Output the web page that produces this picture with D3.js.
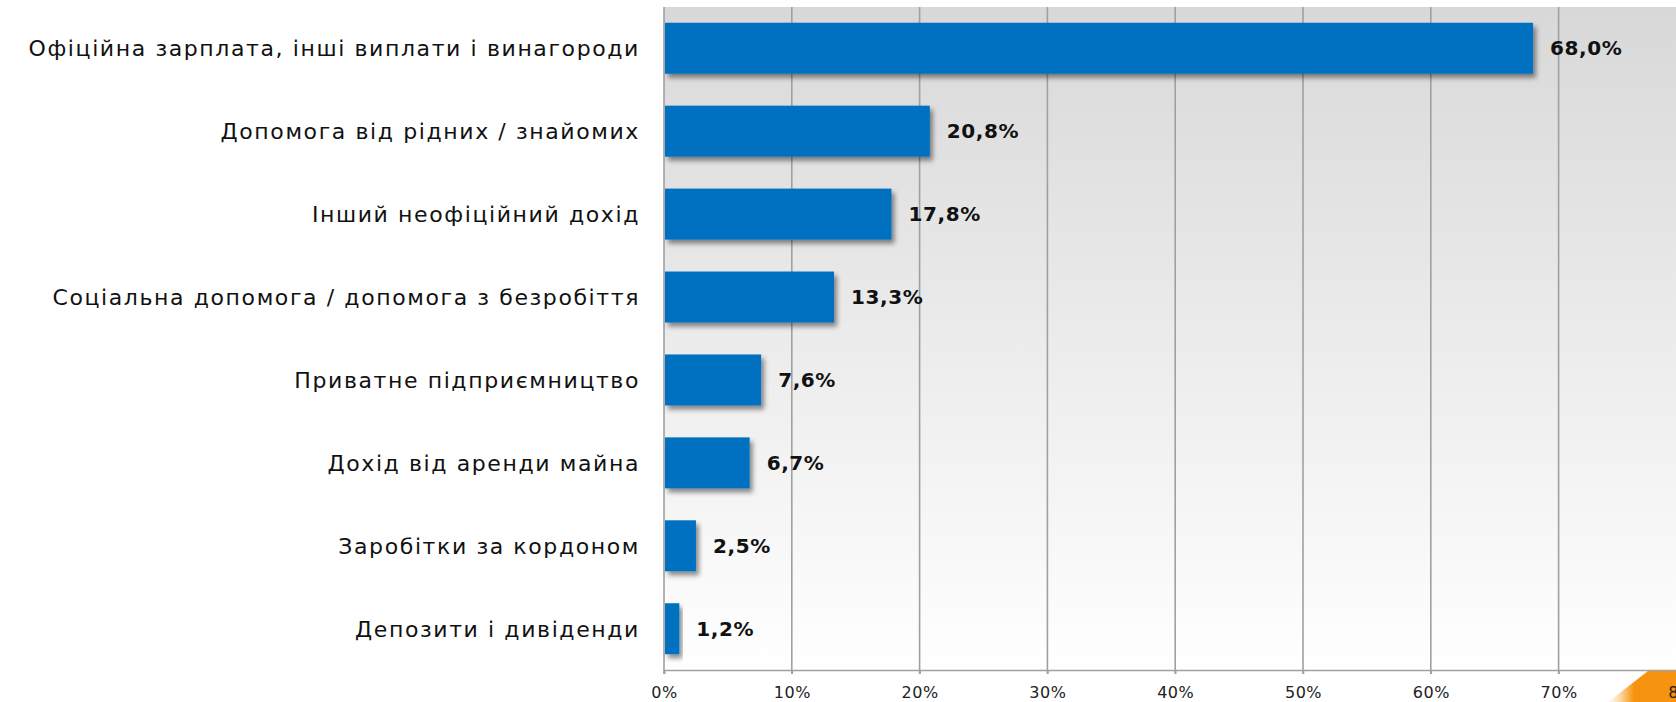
<!DOCTYPE html>
<html>
<head>
<meta charset="utf-8">
<script src="https://cdn.jsdelivr.net/npm/d3@7"></script>
<style>
  html, body { margin: 0; padding: 0; background: #ffffff; overflow: hidden; }
  svg { display: block; }
</style>
</head>
<body>
<svg id="chart" width="1676" height="702"></svg>
<script>
// Sources of income, share of respondents
const categories = [
  "Офіційна зарплата, інші виплати і винагороди",
  "Допомога від рідних / знайомих",
  "Інший неофіційний дохід",
  "Соціальна допомога / допомога з безробіття",
  "Приватне підприємництво",
  "Дохід від аренди майна",
  "Заробітки за кордоном",
  "Депозити і дивіденди"
];
const values = [68.0, 20.8, 17.8, 13.3, 7.6, 6.7, 2.5, 1.2];
const tickValues = [0, 10, 20, 30, 40, 50, 60, 70, 80];

const W = 1676, H = 702;
const margin = { left: 664, top: 7, bottom: 32 };
const plotBottom = H - margin.bottom;       // axis line
const plotRight = margin.left + 8 * 127.8;  // 80% falls past the right edge

const svg = d3.select("#chart");
const defs = svg.append("defs");

const bg = defs.append("linearGradient")
  .attr("id", "plotBg").attr("x1", 0).attr("y1", 0).attr("x2", 0).attr("y2", 1);
bg.append("stop").attr("offset", "0%").attr("stop-color", "#d8d8d8");
bg.append("stop").attr("offset", "100%").attr("stop-color", "#ffffff");

const shadow = defs.append("filter").attr("id", "barShadow")
  .attr("x", "-10%").attr("y", "-30%").attr("width", "130%").attr("height", "180%");
shadow.append("feDropShadow")
  .attr("dx", 3).attr("dy", 4).attr("stdDeviation", 2.5)
  .attr("flood-color", "#000").attr("flood-opacity", 0.45);

const corner = defs.append("linearGradient")
  .attr("id", "cornerFill").attr("x1", 0).attr("y1", 0).attr("x2", 1).attr("y2", 0);
corner.append("stop").attr("offset", "0%").attr("stop-color", "#ffffff");
corner.append("stop").attr("offset", "18%").attr("stop-color", "#fbd9a6");
corner.append("stop").attr("offset", "38%").attr("stop-color", "#f7940f");
corner.append("stop").attr("offset", "100%").attr("stop-color", "#f7940f");

const x = d3.scaleLinear().domain([0, 80]).range([margin.left, plotRight]);
const y = d3.scaleBand().domain(categories)
  .range([margin.top, plotBottom]).paddingInner(0.385).paddingOuter(0.19);

// plot background
svg.append("rect")
  .attr("x", margin.left).attr("y", margin.top)
  .attr("width", plotRight - margin.left).attr("height", plotBottom - margin.top)
  .attr("fill", "url(#plotBg)");

// decorative corner
svg.append("path")
  .attr("d", "M1608,702 L1648,671 L1676,671 L1676,702 Z")
  .attr("fill", "url(#cornerFill)");

// vertical gridlines
svg.append("g").selectAll("line").data(tickValues).join("line")
  .attr("x1", d => x(d)).attr("x2", d => x(d))
  .attr("y1", margin.top).attr("y2", plotBottom + 4)
  .attr("stroke", "#a0a0a0").attr("stroke-width", 1.6);

// x axis
const xAxis = d3.axisBottom(x).tickValues(tickValues)
  .tickFormat(d => d + "%").tickSize(4).tickPadding(13);
const gx = svg.append("g").attr("transform", `translate(0,${plotBottom})`).call(xAxis);
gx.select(".domain").attr("stroke", "#a0a0a0").attr("stroke-width", 1.6);
gx.selectAll(".tick line").attr("stroke", "#a0a0a0").attr("stroke-width", 1.6);
gx.selectAll("text")
  .attr("font-family", "'DejaVu Sans', sans-serif").attr("font-size", 16)
  .attr("letter-spacing", 0.5)
  .attr("fill", "#222");

// bars
svg.append("g").selectAll("rect").data(values).join("rect")
  .attr("x", x(0) + 1)
  .attr("y", (d, i) => y(categories[i]))
  .attr("width", d => x(d) - x(0) - 1)
  .attr("height", y.bandwidth())
  .attr("fill", "#0070c0")
  .attr("filter", "url(#barShadow)");

// value labels
svg.append("g").selectAll("text").data(values).join("text")
  .attr("x", d => x(d) + 17)
  .attr("y", (d, i) => y(categories[i]) + y.bandwidth() / 2)
  .attr("dy", "0.36em")
  .attr("font-family", "'DejaVu Sans', sans-serif")
  .attr("font-weight", "bold").attr("font-size", 20)
  .attr("letter-spacing", 0.6)
  .attr("fill", "#111")
  .text(d => d.toFixed(1).replace(".", ",") + "%");

// category labels
svg.append("g").selectAll("text").data(categories).join("text")
  .attr("x", 640)
  .attr("y", d => y(d) + y.bandwidth() / 2)
  .attr("dy", "0.36em")
  .attr("text-anchor", "end")
  .attr("font-family", "'DejaVu Sans', sans-serif")
  .attr("font-size", 22)
  .attr("letter-spacing", 1.6)
  .attr("fill", "#111")
  .text(d => d);
</script>
</body>
</html>
